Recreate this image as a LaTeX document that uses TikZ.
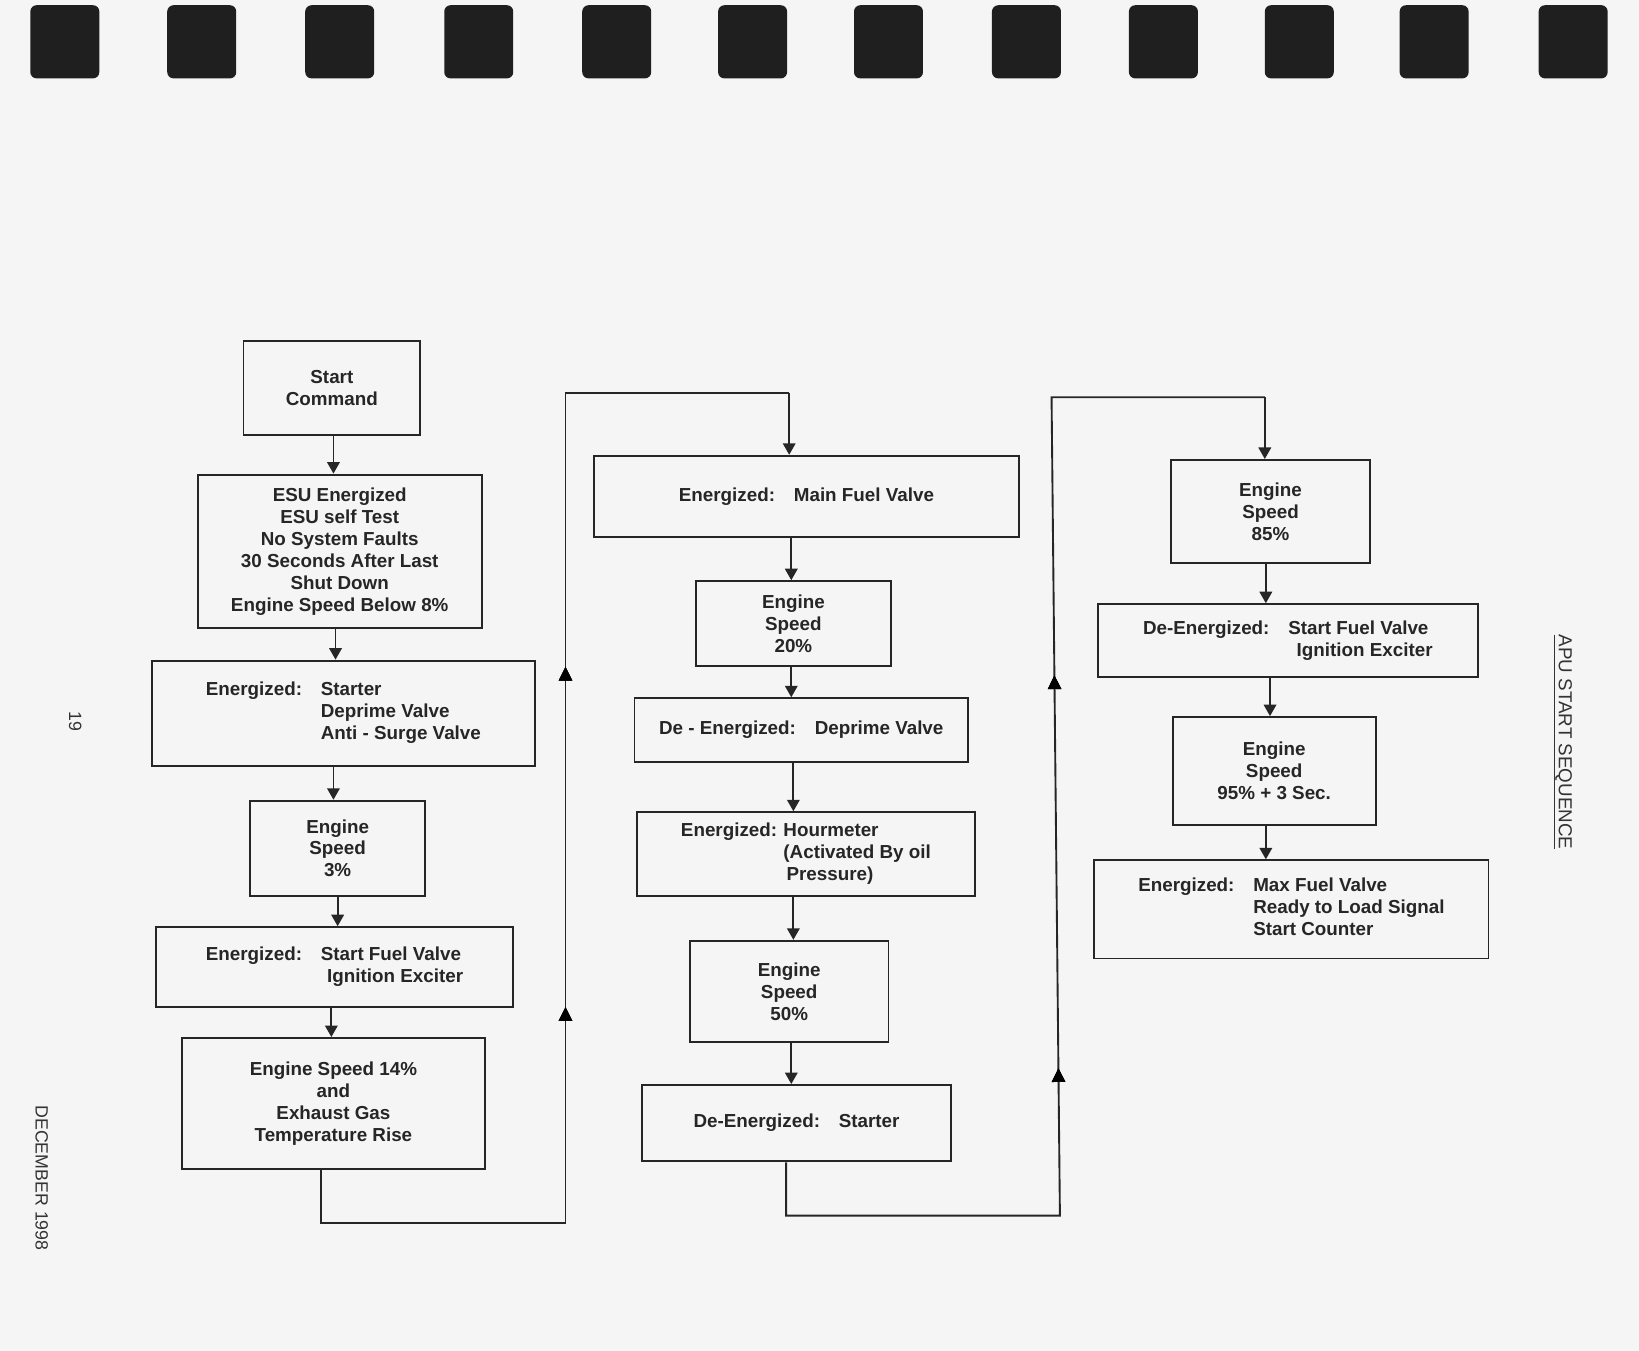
\documentclass[tikz,border=0pt]{standalone}
\usepackage{fontspec}
\setmainfont{Liberation Sans}
\usetikzlibrary{decorations.markings,arrows.meta}
\begin{document}
\begin{tikzpicture}[x=1pt,y=-1pt,
  box/.style={draw=black!85,line width=1.8pt,inner sep=0pt,font=\fontsize{18}{21}\selectfont\bfseries,text=black!85},
  conn/.style={draw=black!85,line width=1.8pt},
  arr/.style={conn,-{Triangle[length=11pt,width=12pt]}},
  mid/.style={postaction={decorate},decoration={markings,mark=at position #1 with {\arrow{Triangle[length=13pt,width=13pt]}}}},
  ring/.style={fill=black!88,rounded corners=6pt}]
\fill[black!4] (0,0) rectangle (1568,1292);
\useasboundingbox (0,0) rectangle (1568,1292);
\foreach \x in {62,193,325,458,590,720,850,982,1113,1243,1372,1505}
  \fill[ring] (\x-33,5) rectangle (\x+33,75);
% column 1
\node[box,minimum width=169,minimum height=90,align=center] (start) at (317.5,371) {Start\\Command};
\node[box,minimum width=272,minimum height=147,align=center] (esu) at (325,527.5) {ESU Energized\\ESU self Test\\No System Faults\\30 Seconds After Last\\Shut Down\\Engine Speed Below 8\%};
\node[box,minimum width=367,minimum height=101] (en1) at (328.5,682.5) {\begin{tabular}{@{}l@{\quad}l@{}}Energized: & Starter\\ & Deprime Valve\\ & Anti - Surge Valve\end{tabular}};
\node[box,minimum width=168,minimum height=91,align=center] (s3) at (323,811.5) {Engine\\Speed\\3\%};
\node[box,minimum width=342,minimum height=76] (sfv) at (320,925) {\begin{tabular}{@{}l@{\quad}l@{}}Energized: & Start Fuel Valve\\ & \hspace{6pt}Ignition Exciter\end{tabular}};
\node[box,minimum width=290,minimum height=125,align=center] (s14) at (319,1055.5) {Engine Speed 14\%\\and\\Exhaust Gas\\Temperature Rise};
% column 2
\node[box,minimum width=407,minimum height=78] (mfv) at (771.5,475) {Energized:\quad Main Fuel Valve};
\node[box,minimum width=186,minimum height=81,align=center] (s20) at (759,596.5) {Engine\\Speed\\20\%};
\node[box,minimum width=319,minimum height=61] (dep) at (766.5,698.5) {De - Energized:\quad Deprime Valve};
\node[box,minimum width=324,minimum height=80] (hour) at (771,817) {\begin{tabular}{@{}l@{\hspace{6pt}}l@{}}Energized: & Hourmeter\\ & (Activated By oil\\ & \hspace{3pt}Pressure)\end{tabular}};
\node[box,minimum width=190,minimum height=97,align=center] (s50) at (755,948.5) {Engine\\Speed\\50\%};
\node[box,minimum width=296,minimum height=73] (dst) at (762,1074.5) {De-Energized:\quad Starter};
% column 3
\node[box,minimum width=191,minimum height=99,align=center] (s85) at (1215.5,489.5) {Engine\\Speed\\85\%};
\node[box,minimum width=364,minimum height=70] (deen) at (1232,613) {\begin{tabular}{@{}l@{\quad}l@{}}De-Energized: & Start Fuel Valve\\ & \hspace{8pt}Ignition Exciter\end{tabular}};
\node[box,minimum width=194,minimum height=103,align=center] (s95) at (1219,737.5) {Engine\\Speed\\95\% + 3 Sec.};
\node[box,minimum width=377,minimum height=94] (max) at (1235.5,870) {\begin{tabular}{@{}l@{\quad}l@{}}Energized: & Max Fuel Valve\\ & Ready to Load Signal\\ & Start Counter\end{tabular}};
% connectors
\draw[arr] (start.south -| 319,0) -- (esu.north -| 319,0);
\draw[arr] (esu.south -| 321,0) -- (en1.north -| 321,0);
\draw[arr] (en1.south -| 319,0) -- (s3.north -| 319,0);
\draw[arr] (s3) -- (sfv.north -| s3);
\draw[arr] (sfv.south -| 317,0) -- (s14.north -| 317,0);
\coordinate (a1) at (307,1170); \coordinate (a2) at (541,1170);
\coordinate (a3) at (541,376); \coordinate (a4) at (755,376);
\draw[conn] (s14.south -| 307,0) -- (a1) -- (a2) -- (a3) -- (a4);
\path[mid=0.26,mid=0.67] (a2) -- (a3);
\draw[arr] (a4) -- (mfv.north -| a4);
\draw[arr] (mfv.south -| 757,0) -- (s20.north -| 757,0);
\draw[arr] (s20.south -| 757,0) -- (dep.north -| 757,0);
\draw[arr] (dep.south -| 759,0) -- (hour.north -| 759,0);
\draw[arr] (hour.south -| 759,0) -- (s50.north -| 759,0);
\draw[arr] (s50.south -| 757,0) -- (dst.north -| 757,0);
\coordinate (b1) at (752,1163); \coordinate (b2) at (1014,1163);
\coordinate (b3) at (1006,380); \coordinate (b4) at (1210,380);
\draw[conn] (dst.south -| 752,0) -- (b1) -- (b2) -- (b3) -- (b4);
\path[mid=0.18,mid=0.66] (b2) -- (b3);
\draw[arr] (b4) -- (s85.north -| b4);
\draw[arr] (s85.south -| 1211,0) -- (deen.north -| 1211,0);
\draw[arr] (deen.south -| 1215,0) -- (s95.north -| 1215,0);
\draw[arr] (s95.south -| 1211,0) -- (max.north -| 1211,0);
% margin texts
\node[rotate=-90,font=\fontsize{17}{19}\selectfont,text=black!80] (pg) at (72,690) {19};
\node[rotate=-90,font=\fontsize{17}{19}\selectfont,text=black!80] (dt) at (40,1127) {DECEMBER 1998};
\node[rotate=-90,font=\fontsize{18}{20}\selectfont,text=black!80] (ttl) at (1495,710) {\underline{APU START SEQUENCE}};
\end{tikzpicture}
\end{document}
